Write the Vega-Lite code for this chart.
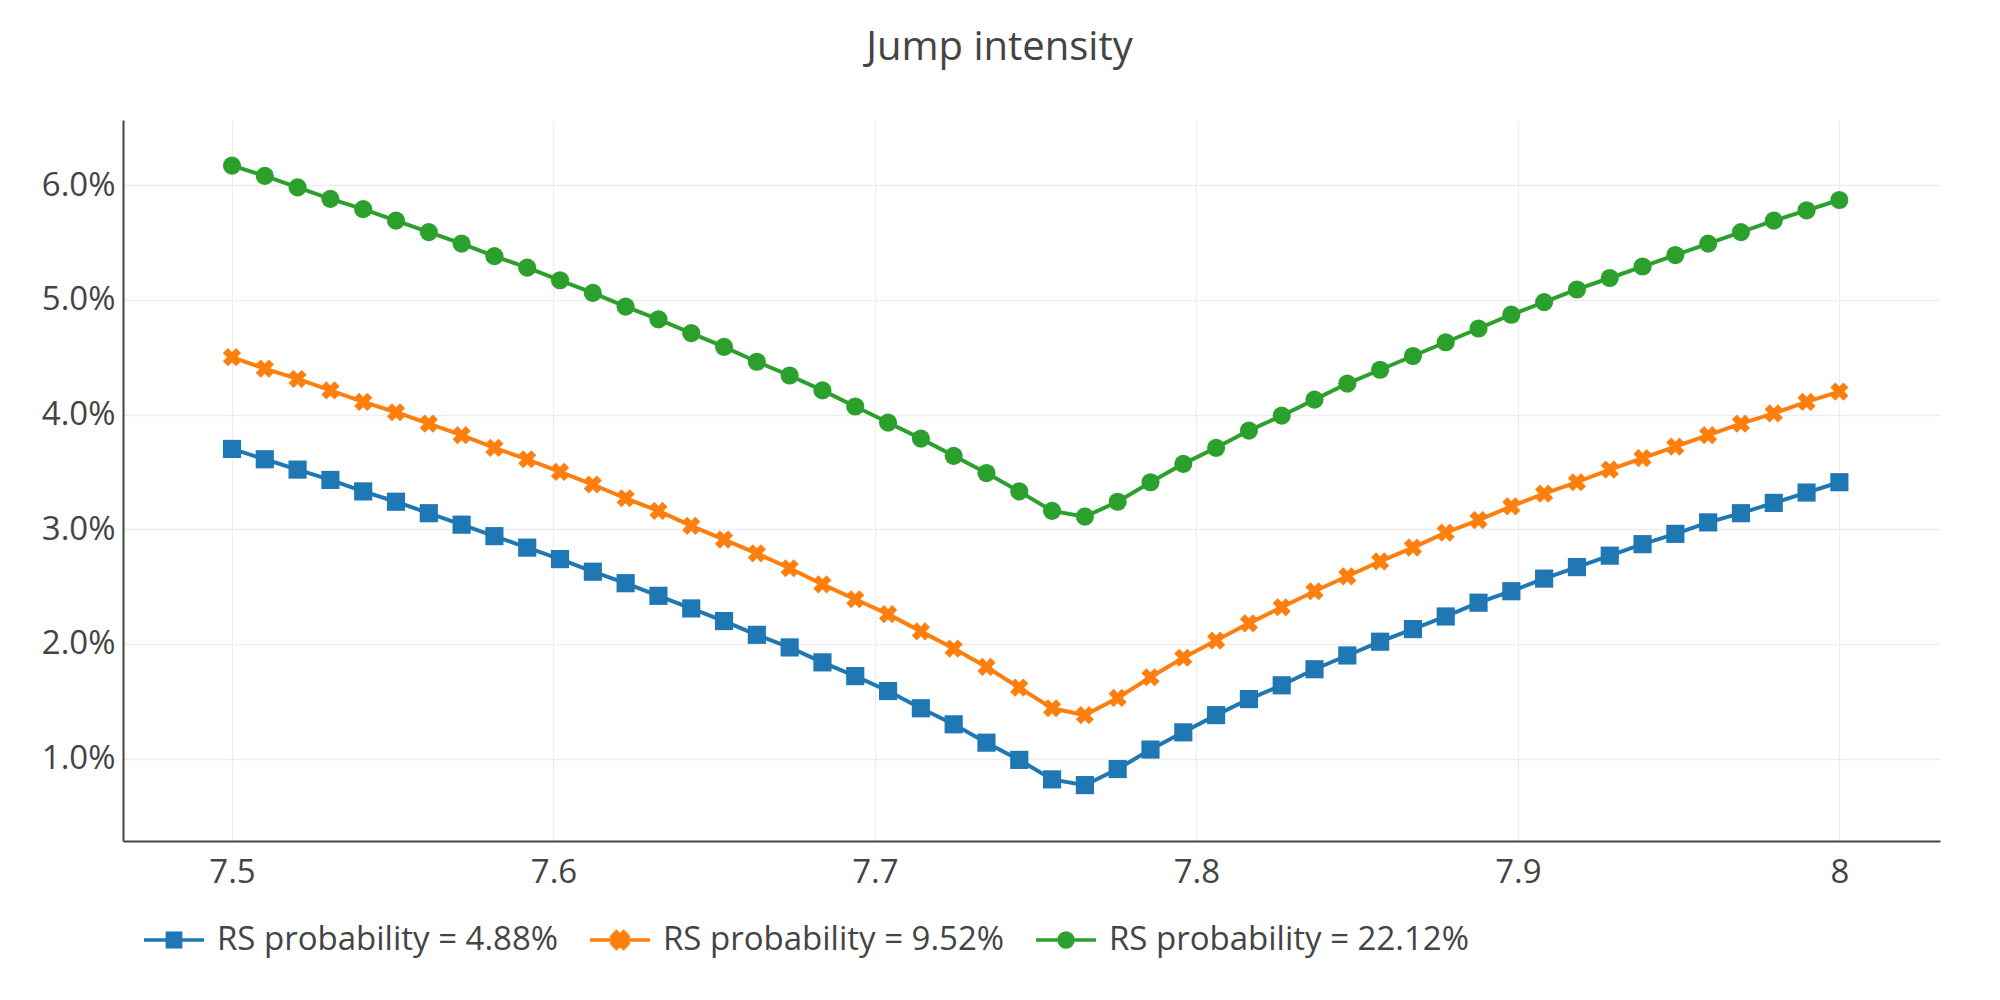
{
  "$schema": "https://vega.github.io/schema/vega-lite/v6.json",
  "width": 1817,
  "height": 721,
  "autosize": {"type": "none"},
  "padding": {"left": 123, "top": 120, "right": 60, "bottom": 159},
  "background": "white",
  "title": {
    "text": "Jump intensity",
    "fontSize": 40,
    "fontWeight": "normal",
    "color": "#444",
    "anchor": "middle",
    "frame": "group",
    "baseline": "alphabetic",
    "offset": 20,
    "dx": -32
  },
  "config": {
    "font": "Open Sans",
    "view": {"stroke": null},
    "axis": {
      "ticks": false,
      "domainColor": "#444",
      "domainWidth": 2,
      "gridColor": "#eeeeee",
      "gridWidth": 1.3,
      "labelFontSize": 33,
      "labelColor": "#444",
      "labelFlush": false,
      "labelOverlap": false,
      "title": null
    }
  },
  "data": {
    "values": [
      {"x": 7.5, "y": 0.0370, "s": "RS probability = 4.88%"},
      {"x": 7.510204, "y": 0.0361, "s": "RS probability = 4.88%"},
      {"x": 7.520408, "y": 0.0352, "s": "RS probability = 4.88%"},
      {"x": 7.530612, "y": 0.0343, "s": "RS probability = 4.88%"},
      {"x": 7.540816, "y": 0.0333, "s": "RS probability = 4.88%"},
      {"x": 7.55102, "y": 0.0324, "s": "RS probability = 4.88%"},
      {"x": 7.561224, "y": 0.0314, "s": "RS probability = 4.88%"},
      {"x": 7.571429, "y": 0.0304, "s": "RS probability = 4.88%"},
      {"x": 7.581633, "y": 0.0294, "s": "RS probability = 4.88%"},
      {"x": 7.591837, "y": 0.0284, "s": "RS probability = 4.88%"},
      {"x": 7.602041, "y": 0.0274, "s": "RS probability = 4.88%"},
      {"x": 7.612245, "y": 0.0263, "s": "RS probability = 4.88%"},
      {"x": 7.622449, "y": 0.0253, "s": "RS probability = 4.88%"},
      {"x": 7.632653, "y": 0.0242, "s": "RS probability = 4.88%"},
      {"x": 7.642857, "y": 0.0231, "s": "RS probability = 4.88%"},
      {"x": 7.653061, "y": 0.0220, "s": "RS probability = 4.88%"},
      {"x": 7.663265, "y": 0.0208, "s": "RS probability = 4.88%"},
      {"x": 7.673469, "y": 0.0197, "s": "RS probability = 4.88%"},
      {"x": 7.683673, "y": 0.0184, "s": "RS probability = 4.88%"},
      {"x": 7.693878, "y": 0.0172, "s": "RS probability = 4.88%"},
      {"x": 7.704082, "y": 0.0159, "s": "RS probability = 4.88%"},
      {"x": 7.714286, "y": 0.0144, "s": "RS probability = 4.88%"},
      {"x": 7.72449, "y": 0.0130, "s": "RS probability = 4.88%"},
      {"x": 7.734694, "y": 0.0114, "s": "RS probability = 4.88%"},
      {"x": 7.744898, "y": 0.0099, "s": "RS probability = 4.88%"},
      {"x": 7.755102, "y": 0.0082, "s": "RS probability = 4.88%"},
      {"x": 7.765306, "y": 0.0077, "s": "RS probability = 4.88%"},
      {"x": 7.77551, "y": 0.0091, "s": "RS probability = 4.88%"},
      {"x": 7.785714, "y": 0.0108, "s": "RS probability = 4.88%"},
      {"x": 7.795918, "y": 0.0123, "s": "RS probability = 4.88%"},
      {"x": 7.806122, "y": 0.0138, "s": "RS probability = 4.88%"},
      {"x": 7.816327, "y": 0.0152, "s": "RS probability = 4.88%"},
      {"x": 7.826531, "y": 0.0164, "s": "RS probability = 4.88%"},
      {"x": 7.836735, "y": 0.0178, "s": "RS probability = 4.88%"},
      {"x": 7.846939, "y": 0.0190, "s": "RS probability = 4.88%"},
      {"x": 7.857143, "y": 0.0202, "s": "RS probability = 4.88%"},
      {"x": 7.867347, "y": 0.0213, "s": "RS probability = 4.88%"},
      {"x": 7.877551, "y": 0.0224, "s": "RS probability = 4.88%"},
      {"x": 7.887755, "y": 0.0236, "s": "RS probability = 4.88%"},
      {"x": 7.897959, "y": 0.0246, "s": "RS probability = 4.88%"},
      {"x": 7.908163, "y": 0.0257, "s": "RS probability = 4.88%"},
      {"x": 7.918367, "y": 0.0267, "s": "RS probability = 4.88%"},
      {"x": 7.928571, "y": 0.0277, "s": "RS probability = 4.88%"},
      {"x": 7.938776, "y": 0.0287, "s": "RS probability = 4.88%"},
      {"x": 7.94898, "y": 0.0296, "s": "RS probability = 4.88%"},
      {"x": 7.959184, "y": 0.0306, "s": "RS probability = 4.88%"},
      {"x": 7.969388, "y": 0.0314, "s": "RS probability = 4.88%"},
      {"x": 7.979592, "y": 0.0323, "s": "RS probability = 4.88%"},
      {"x": 7.989796, "y": 0.0332, "s": "RS probability = 4.88%"},
      {"x": 8.0, "y": 0.0341, "s": "RS probability = 4.88%"},
      {"x": 7.5, "y": 0.0450, "s": "RS probability = 9.52%"},
      {"x": 7.510204, "y": 0.0440, "s": "RS probability = 9.52%"},
      {"x": 7.520408, "y": 0.0431, "s": "RS probability = 9.52%"},
      {"x": 7.530612, "y": 0.0421, "s": "RS probability = 9.52%"},
      {"x": 7.540816, "y": 0.0411, "s": "RS probability = 9.52%"},
      {"x": 7.55102, "y": 0.0402, "s": "RS probability = 9.52%"},
      {"x": 7.561224, "y": 0.0392, "s": "RS probability = 9.52%"},
      {"x": 7.571429, "y": 0.0382, "s": "RS probability = 9.52%"},
      {"x": 7.581633, "y": 0.0371, "s": "RS probability = 9.52%"},
      {"x": 7.591837, "y": 0.0361, "s": "RS probability = 9.52%"},
      {"x": 7.602041, "y": 0.0350, "s": "RS probability = 9.52%"},
      {"x": 7.612245, "y": 0.0339, "s": "RS probability = 9.52%"},
      {"x": 7.622449, "y": 0.0327, "s": "RS probability = 9.52%"},
      {"x": 7.632653, "y": 0.0316, "s": "RS probability = 9.52%"},
      {"x": 7.642857, "y": 0.0303, "s": "RS probability = 9.52%"},
      {"x": 7.653061, "y": 0.0291, "s": "RS probability = 9.52%"},
      {"x": 7.663265, "y": 0.0279, "s": "RS probability = 9.52%"},
      {"x": 7.673469, "y": 0.0266, "s": "RS probability = 9.52%"},
      {"x": 7.683673, "y": 0.0252, "s": "RS probability = 9.52%"},
      {"x": 7.693878, "y": 0.0239, "s": "RS probability = 9.52%"},
      {"x": 7.704082, "y": 0.0226, "s": "RS probability = 9.52%"},
      {"x": 7.714286, "y": 0.0211, "s": "RS probability = 9.52%"},
      {"x": 7.72449, "y": 0.0196, "s": "RS probability = 9.52%"},
      {"x": 7.734694, "y": 0.0180, "s": "RS probability = 9.52%"},
      {"x": 7.744898, "y": 0.0162, "s": "RS probability = 9.52%"},
      {"x": 7.755102, "y": 0.0144, "s": "RS probability = 9.52%"},
      {"x": 7.765306, "y": 0.0138, "s": "RS probability = 9.52%"},
      {"x": 7.77551, "y": 0.0153, "s": "RS probability = 9.52%"},
      {"x": 7.785714, "y": 0.0171, "s": "RS probability = 9.52%"},
      {"x": 7.795918, "y": 0.0188, "s": "RS probability = 9.52%"},
      {"x": 7.806122, "y": 0.0203, "s": "RS probability = 9.52%"},
      {"x": 7.816327, "y": 0.0218, "s": "RS probability = 9.52%"},
      {"x": 7.826531, "y": 0.0232, "s": "RS probability = 9.52%"},
      {"x": 7.836735, "y": 0.0246, "s": "RS probability = 9.52%"},
      {"x": 7.846939, "y": 0.0259, "s": "RS probability = 9.52%"},
      {"x": 7.857143, "y": 0.0272, "s": "RS probability = 9.52%"},
      {"x": 7.867347, "y": 0.0284, "s": "RS probability = 9.52%"},
      {"x": 7.877551, "y": 0.0297, "s": "RS probability = 9.52%"},
      {"x": 7.887755, "y": 0.0308, "s": "RS probability = 9.52%"},
      {"x": 7.897959, "y": 0.0320, "s": "RS probability = 9.52%"},
      {"x": 7.908163, "y": 0.0331, "s": "RS probability = 9.52%"},
      {"x": 7.918367, "y": 0.0341, "s": "RS probability = 9.52%"},
      {"x": 7.928571, "y": 0.0352, "s": "RS probability = 9.52%"},
      {"x": 7.938776, "y": 0.0362, "s": "RS probability = 9.52%"},
      {"x": 7.94898, "y": 0.0372, "s": "RS probability = 9.52%"},
      {"x": 7.959184, "y": 0.0382, "s": "RS probability = 9.52%"},
      {"x": 7.969388, "y": 0.0392, "s": "RS probability = 9.52%"},
      {"x": 7.979592, "y": 0.0401, "s": "RS probability = 9.52%"},
      {"x": 7.989796, "y": 0.0411, "s": "RS probability = 9.52%"},
      {"x": 8.0, "y": 0.0420, "s": "RS probability = 9.52%"},
      {"x": 7.5, "y": 0.0617, "s": "RS probability = 22.12%"},
      {"x": 7.510204, "y": 0.0608, "s": "RS probability = 22.12%"},
      {"x": 7.520408, "y": 0.0598, "s": "RS probability = 22.12%"},
      {"x": 7.530612, "y": 0.0588, "s": "RS probability = 22.12%"},
      {"x": 7.540816, "y": 0.0579, "s": "RS probability = 22.12%"},
      {"x": 7.55102, "y": 0.0569, "s": "RS probability = 22.12%"},
      {"x": 7.561224, "y": 0.0559, "s": "RS probability = 22.12%"},
      {"x": 7.571429, "y": 0.0549, "s": "RS probability = 22.12%"},
      {"x": 7.581633, "y": 0.0538, "s": "RS probability = 22.12%"},
      {"x": 7.591837, "y": 0.0528, "s": "RS probability = 22.12%"},
      {"x": 7.602041, "y": 0.0517, "s": "RS probability = 22.12%"},
      {"x": 7.612245, "y": 0.0506, "s": "RS probability = 22.12%"},
      {"x": 7.622449, "y": 0.0494, "s": "RS probability = 22.12%"},
      {"x": 7.632653, "y": 0.0483, "s": "RS probability = 22.12%"},
      {"x": 7.642857, "y": 0.0471, "s": "RS probability = 22.12%"},
      {"x": 7.653061, "y": 0.0459, "s": "RS probability = 22.12%"},
      {"x": 7.663265, "y": 0.0446, "s": "RS probability = 22.12%"},
      {"x": 7.673469, "y": 0.0434, "s": "RS probability = 22.12%"},
      {"x": 7.683673, "y": 0.0421, "s": "RS probability = 22.12%"},
      {"x": 7.693878, "y": 0.0407, "s": "RS probability = 22.12%"},
      {"x": 7.704082, "y": 0.0393, "s": "RS probability = 22.12%"},
      {"x": 7.714286, "y": 0.0379, "s": "RS probability = 22.12%"},
      {"x": 7.72449, "y": 0.0364, "s": "RS probability = 22.12%"},
      {"x": 7.734694, "y": 0.0349, "s": "RS probability = 22.12%"},
      {"x": 7.744898, "y": 0.0333, "s": "RS probability = 22.12%"},
      {"x": 7.755102, "y": 0.0316, "s": "RS probability = 22.12%"},
      {"x": 7.765306, "y": 0.0311, "s": "RS probability = 22.12%"},
      {"x": 7.77551, "y": 0.0324, "s": "RS probability = 22.12%"},
      {"x": 7.785714, "y": 0.0341, "s": "RS probability = 22.12%"},
      {"x": 7.795918, "y": 0.0357, "s": "RS probability = 22.12%"},
      {"x": 7.806122, "y": 0.0371, "s": "RS probability = 22.12%"},
      {"x": 7.816327, "y": 0.0386, "s": "RS probability = 22.12%"},
      {"x": 7.826531, "y": 0.0399, "s": "RS probability = 22.12%"},
      {"x": 7.836735, "y": 0.0413, "s": "RS probability = 22.12%"},
      {"x": 7.846939, "y": 0.0427, "s": "RS probability = 22.12%"},
      {"x": 7.857143, "y": 0.0439, "s": "RS probability = 22.12%"},
      {"x": 7.867347, "y": 0.0451, "s": "RS probability = 22.12%"},
      {"x": 7.877551, "y": 0.0463, "s": "RS probability = 22.12%"},
      {"x": 7.887755, "y": 0.0475, "s": "RS probability = 22.12%"},
      {"x": 7.897959, "y": 0.0487, "s": "RS probability = 22.12%"},
      {"x": 7.908163, "y": 0.0498, "s": "RS probability = 22.12%"},
      {"x": 7.918367, "y": 0.0509, "s": "RS probability = 22.12%"},
      {"x": 7.928571, "y": 0.0519, "s": "RS probability = 22.12%"},
      {"x": 7.938776, "y": 0.0529, "s": "RS probability = 22.12%"},
      {"x": 7.94898, "y": 0.0539, "s": "RS probability = 22.12%"},
      {"x": 7.959184, "y": 0.0549, "s": "RS probability = 22.12%"},
      {"x": 7.969388, "y": 0.0559, "s": "RS probability = 22.12%"},
      {"x": 7.979592, "y": 0.0569, "s": "RS probability = 22.12%"},
      {"x": 7.989796, "y": 0.0578, "s": "RS probability = 22.12%"},
      {"x": 8.0, "y": 0.0587, "s": "RS probability = 22.12%"}
    ]
  },
  "encoding": {
    "x": {
      "field": "x",
      "type": "quantitative",
      "scale": {"domain": [7.4661, 8.0313], "nice": false, "zero": false},
      "axis": {
        "values": [7.5, 7.6, 7.7, 7.8, 7.9, 8],
        "format": "~g",
        "labelPadding": 15
      }
    },
    "y": {
      "field": "y",
      "type": "quantitative",
      "scale": {"domain": [0.00283, 0.06567], "nice": false, "zero": false},
      "axis": {
        "values": [0.01, 0.02, 0.03, 0.04, 0.05, 0.06],
        "format": ".1%",
        "labelPadding": 8
      }
    }
  },
  "layer": [
    {
      "mark": {"type": "line", "strokeWidth": 4},
      "encoding": {
        "color": {
          "field": "s",
          "type": "nominal",
          "scale": {
            "domain": ["RS probability = 4.88%", "RS probability = 9.52%", "RS probability = 22.12%"],
            "range": ["#1f77b4", "#ff7f0e", "#2ca02c"]
          },
          "legend": {
            "title": null,
            "orient": "none",
            "legendX": 19,
            "legendY": 788,
            "direction": "horizontal",
            "padding": 0,
            "symbolSize": 3600,
            "labelFontSize": 33,
            "labelColor": "#444",
            "labelOffset": 11,
            "columnPadding": 23,
            "labelLimit": 700,
            "encode": {
              "symbols": {
                "update": {
                  "shape": {"signal": "datum.value === 'RS probability = 4.88%' ? 'M-1,0H1M-0.22,-0.22H0.22V0.22H-0.22Z' : datum.value === 'RS probability = 9.52%' ? 'M-1,0H1M-0.27,-0.12L-0.12,-0.27L0,-0.15L0.12,-0.27L0.27,-0.12L0.15,0L0.27,0.12L0.12,0.27L0,0.15L-0.12,0.27L-0.27,0.12L-0.15,0Z' : 'M-1,0H1M0.23,0A0.23,0.23,0,1,1,-0.23,0A0.23,0.23,0,1,1,0.23,0Z'"},
                  "fill": {"signal": "scale('color', datum.value)"},
                  "stroke": {"signal": "scale('color', datum.value)"},
                  "strokeWidth": {"value": 3.6},
                  "opacity": {"value": 1},
                  "fillOpacity": {"value": 1},
                  "strokeOpacity": {"value": 1}
                }
              }
            }
          }
        }
      }
    },
    {
      "transform": [{"filter": "datum.s === 'RS probability = 4.88%'"}],
      "mark": {"type": "point", "filled": true, "opacity": 1, "size": 330, "shape": "square"},
      "encoding": {
        "color": {"field": "s", "type": "nominal", "legend": null}
      }
    },
    {
      "transform": [{"filter": "datum.s === 'RS probability = 9.52%'"}],
      "mark": {"type": "point", "filled": true, "opacity": 1, "size": 330, "shape": "M-1,-0.45L-0.45,-1L0,-0.55L0.45,-1L1,-0.45L0.55,0L1,0.45L0.45,1L0,0.55L-0.45,1L-1,0.45L-0.55,0Z"},
      "encoding": {
        "color": {"field": "s", "type": "nominal", "legend": null}
      }
    },
    {
      "transform": [{"filter": "datum.s === 'RS probability = 22.12%'"}],
      "mark": {"type": "point", "filled": true, "opacity": 1, "size": 330, "shape": "circle"},
      "encoding": {
        "color": {"field": "s", "type": "nominal", "legend": null}
      }
    }
  ]
}
